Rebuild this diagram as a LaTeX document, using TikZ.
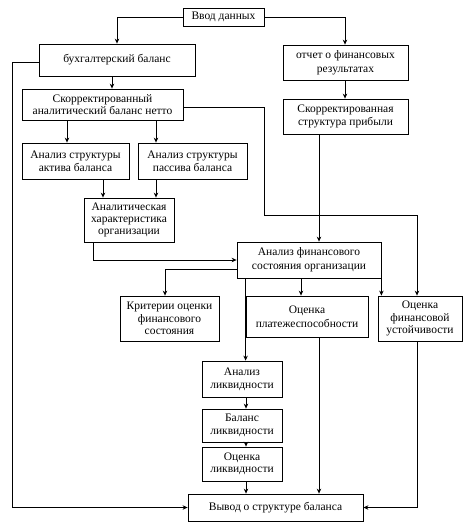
\documentclass[tikz,border=0pt]{standalone}
\usepackage{fontspec}
\setmainfont{Liberation Serif}
\usetikzlibrary{arrows.meta}
\begin{document}
\begin{tikzpicture}[x=1pt,y=-1pt,
  box/.style={draw,line width=0.8pt,align=center,inner sep=0pt,font=\fontsize{11.5}{12.5}\selectfont},
  arr/.style={line width=0.8pt,-{Stealth[length=5pt,width=4.5pt]}},
  ln/.style={line width=0.8pt}]
\useasboundingbox (0,0) rectangle (464,528);
\node[box,minimum width=81pt,minimum height=18pt] (in) at (223.5,17) {Ввод данных};
\node[box,minimum width=156pt,minimum height=32pt] (buh) at (117,60) {бухгалтерский баланс};
\node[box,minimum width=125pt,minimum height=35pt,font=\fontsize{11.5}{14}\selectfont] (otch) at (345.5,62.5) {отчет о финансовых\\результатах};
\node[box,minimum width=161pt,minimum height=31pt,font=\fontsize{11.5}{11.5}\selectfont] (skb) at (102.5,104.5) {Скорректированный\\аналитический баланс нетто};
\node[box,minimum width=125pt,minimum height=35pt,font=\fontsize{11.5}{13.5}\selectfont] (skp) at (345.5,116.5) {Скорректированная\\структура прибыли};
\node[box,minimum width=107pt,minimum height=36pt,font=\fontsize{11.5}{13}\selectfont] (akt) at (75.5,161) {Анализ структуры\\актива баланса};
\node[box,minimum width=109pt,minimum height=36pt,font=\fontsize{11.5}{13}\selectfont] (pas) at (192.5,161) {Анализ структуры\\пассива баланса};
\node[box,minimum width=90pt,minimum height=44pt,font=\fontsize{11.5}{11.7}\selectfont] (ahk) at (129,220) {Аналитическая\\характеристика\\организации};
\node[box,minimum width=144pt,minimum height=36pt,font=\fontsize{11.5}{14}\selectfont] (afs) at (309,260) {Анализ финансового\\состояния организации};
\node[box,minimum width=99pt,minimum height=45pt,font=\fontsize{11.5}{12.5}\selectfont] (krit) at (169.5,318.5) {Критерии оценки\\финансового\\состояния};
\node[box,minimum width=122pt,minimum height=41pt,font=\fontsize{11.5}{14}\selectfont] (plat) at (307,316.5) {Оценка\\платежеспособности};
\node[box,minimum width=84pt,minimum height=45pt,font=\fontsize{11.5}{12.5}\selectfont] (ust) at (420,318.5) {Оценка\\финансовой\\устойчивости};
\node[box,minimum width=80pt,minimum height=36pt,font=\fontsize{11.5}{13}\selectfont] (al) at (242,379) {Анализ\\ликвидности};
\node[box,minimum width=80pt,minimum height=33pt,font=\fontsize{11.5}{12.5}\selectfont] (bl) at (242,425.5) {Баланс\\ликвидности};
\node[box,minimum width=80pt,minimum height=34pt,font=\fontsize{11.5}{12.5}\selectfont] (ol) at (242,464) {Оценка\\ликвидности};
\node[box,minimum width=175pt,minimum height=27pt] (vyv) at (275.5,507.5) {Вывод о структуре баланса};
\coordinate (c1) at (264,215);
% top
\draw[arr] (in.west) -| (buh.north);
\draw[arr] (in.east) -| ([xshift=-0.5pt]otch.north);
\draw[arr] ([xshift=-0.5pt]otch.south) -- ([xshift=-0.5pt]skp.north);
\draw[arr] ([xshift=-5pt]buh.south) -- ([xshift=-5pt]buh.south |- skb.north);
\draw[arr] ([yshift=-2pt]buh.west) -- ++(-26,0) |- (vyv.west);
\draw[arr] ([yshift=-2.5pt]skb.east) -| (c1) -| ([xshift=-3pt]ust.north);
\draw[arr] ([xshift=-8.5pt]akt.north |- skb.south) -- ([xshift=-8.5pt]akt.north);
\draw[arr] ([xshift=-36.5pt]pas.north |- skb.south) -- ([xshift=-36.5pt]pas.north);
\draw[arr] ([xshift=27.5pt]akt.south) -- ([xshift=27.5pt]akt.south |- ahk.north);
\draw[arr] ([xshift=-36.5pt]pas.south) -- ([xshift=-36.5pt]pas.south |- ahk.north);
\draw[arr] ([xshift=10pt]afs.north |- skp.south) -- ([xshift=10pt]afs.north);
\draw[arr] ([xshift=-36pt]ahk.south) |- (afs.west);
\draw[arr] ([yshift=-9pt]afs.west) -| ([xshift=-4.5pt]krit.north);
\draw[arr] (afs.south -| plat.west) -- (al.north -| plat.west);
\draw[arr] ([xshift=-6pt]plat.north |- afs.south) -- ([xshift=-6pt]plat.north);
\draw[arr] (afs.south east) -- (afs.south east |- ust.north);
\draw[arr] ([xshift=4pt]al.south) -- ([xshift=4pt]bl.north);
\draw[arr] ([xshift=4pt]bl.south) -- ([xshift=4pt]ol.north);
\draw[arr] ([xshift=4pt]ol.south) -- ([xshift=4pt]ol.south |- vyv.north);
\draw[arr] ([xshift=12pt]plat.south) -- ([xshift=12pt]plat.south |- vyv.north);
\draw[arr] ([xshift=-3pt]ust.south) |- (vyv.east);
\end{tikzpicture}
\end{document}
